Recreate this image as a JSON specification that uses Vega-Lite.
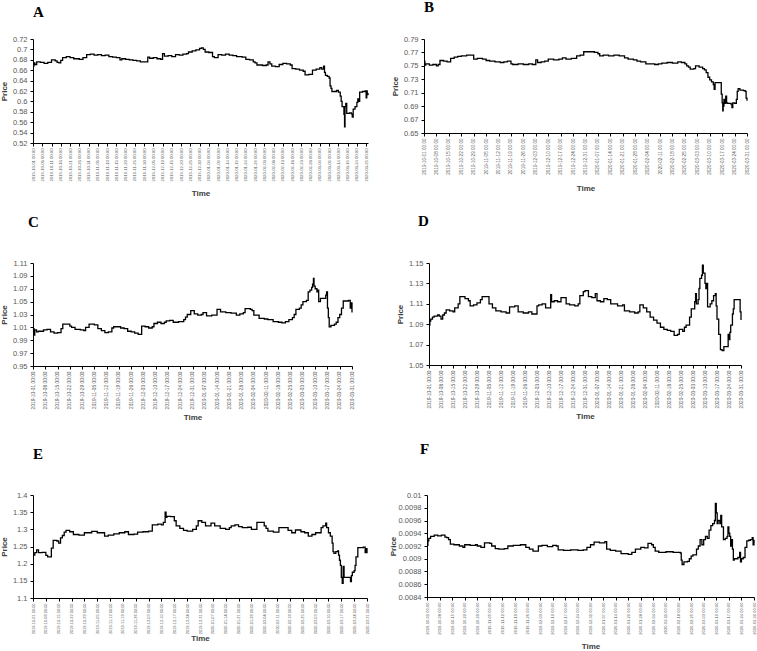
{
  "$schema": "https://vega.github.io/schema/vega-lite/v6.json",
  "background": "white",
  "padding": {"left": 0, "top": 0, "right": 0, "bottom": 0},
  "spacing": 16,
  "datasets": {
    "A": [
      {"t":"2019-10-01","p":0.668},{"t":"2019-10-01T12:00Z","p":0.674},{"t":"2019-10-02","p":0.671},{"t":"2019-10-03","p":0.676},{"t":"2019-10-05","p":0.675},{"t":"2019-10-07","p":0.673},{"t":"2019-10-09","p":0.675},{"t":"2019-10-11","p":0.68},{"t":"2019-10-13","p":0.678},{"t":"2019-10-14","p":0.675},{"t":"2019-10-15","p":0.674},{"t":"2019-10-16","p":0.679},{"t":"2019-10-17","p":0.684},{"t":"2019-10-19","p":0.686},{"t":"2019-10-21","p":0.684},{"t":"2019-10-23","p":0.682},{"t":"2019-10-26","p":0.681},{"t":"2019-10-28","p":0.684},{"t":"2019-10-30","p":0.69},
      {"t":"2019-11-01","p":0.691},{"t":"2019-11-03","p":0.689},{"t":"2019-11-05","p":0.69},{"t":"2019-11-07","p":0.688},{"t":"2019-11-09","p":0.689},{"t":"2019-11-11","p":0.686},{"t":"2019-11-13","p":0.685},{"t":"2019-11-15","p":0.684},{"t":"2019-11-17","p":0.68},{"t":"2019-11-18","p":0.682},{"t":"2019-11-20","p":0.681},{"t":"2019-11-22","p":0.68},{"t":"2019-11-24","p":0.679},{"t":"2019-11-26","p":0.678},{"t":"2019-11-28","p":0.676},{"t":"2019-11-30","p":0.676},
      {"t":"2019-12-02","p":0.685},{"t":"2019-12-03","p":0.683},{"t":"2019-12-05","p":0.684},{"t":"2019-12-07","p":0.682},{"t":"2019-12-09","p":0.681},{"t":"2019-12-10","p":0.692},{"t":"2019-12-11","p":0.687},{"t":"2019-12-13","p":0.688},{"t":"2019-12-15","p":0.686},{"t":"2019-12-17","p":0.69},{"t":"2019-12-19","p":0.689},{"t":"2019-12-21","p":0.691},{"t":"2019-12-23","p":0.692},{"t":"2019-12-24","p":0.695},{"t":"2019-12-26","p":0.697},{"t":"2019-12-28","p":0.699},{"t":"2019-12-30","p":0.702},{"t":"2019-12-31","p":0.703},
      {"t":"2020-01-01","p":0.7},{"t":"2020-01-02","p":0.695},{"t":"2020-01-04","p":0.694},{"t":"2020-01-06","p":0.686},{"t":"2020-01-07","p":0.684},{"t":"2020-01-09","p":0.69},{"t":"2020-01-11","p":0.689},{"t":"2020-01-13","p":0.691},{"t":"2020-01-15","p":0.689},{"t":"2020-01-17","p":0.688},{"t":"2020-01-19","p":0.686},{"t":"2020-01-22","p":0.685},{"t":"2020-01-24","p":0.681},{"t":"2020-01-26","p":0.68},{"t":"2020-01-28","p":0.676},{"t":"2020-01-29","p":0.674},{"t":"2020-01-30","p":0.67},
      {"t":"2020-02-02","p":0.669},{"t":"2020-02-04","p":0.67},{"t":"2020-02-05","p":0.676},{"t":"2020-02-06","p":0.672},{"t":"2020-02-07","p":0.668},{"t":"2020-02-09","p":0.667},{"t":"2020-02-11","p":0.671},{"t":"2020-02-13","p":0.673},{"t":"2020-02-15","p":0.672},{"t":"2020-02-17","p":0.67},{"t":"2020-02-18","p":0.663},{"t":"2020-02-20","p":0.662},{"t":"2020-02-22","p":0.66},{"t":"2020-02-24","p":0.658},{"t":"2020-02-25","p":0.651},{"t":"2020-02-27","p":0.652},{"t":"2020-02-29","p":0.66},
      {"t":"2020-03-02","p":0.662},{"t":"2020-03-04","p":0.665},{"t":"2020-03-05","p":0.662},{"t":"2020-03-06","p":0.668},{"t":"2020-03-06T12:00Z","p":0.656},{"t":"2020-03-07","p":0.65},{"t":"2020-03-08","p":0.648},{"t":"2020-03-09","p":0.645},{"t":"2020-03-09T12:00Z","p":0.63},{"t":"2020-03-10","p":0.625},{"t":"2020-03-10T12:00Z","p":0.619},{"t":"2020-03-13","p":0.621},{"t":"2020-03-14","p":0.618},{"t":"2020-03-15","p":0.61},{"t":"2020-03-15T12:00Z","p":0.6},{"t":"2020-03-16","p":0.59},{"t":"2020-03-17","p":0.575},{"t":"2020-03-17T08:00Z","p":0.551},{"t":"2020-03-17T14:00Z","p":0.59},{"t":"2020-03-18","p":0.596},{"t":"2020-03-18T12:00Z","p":0.577},{"t":"2020-03-20","p":0.578},{"t":"2020-03-21","p":0.576},{"t":"2020-03-21T12:00Z","p":0.57},{"t":"2020-03-22","p":0.585},{"t":"2020-03-23","p":0.59},{"t":"2020-03-24","p":0.598},{"t":"2020-03-24T12:00Z","p":0.605},{"t":"2020-03-25","p":0.6},{"t":"2020-03-25T12:00Z","p":0.618},{"t":"2020-03-27","p":0.619},{"t":"2020-03-28T12:00Z","p":0.62},{"t":"2020-03-29","p":0.607},{"t":"2020-03-29T08:00Z","p":0.62},{"t":"2020-03-29T14:00Z","p":0.613},{"t":"2020-03-30","p":0.616}
    ],
    "B": [
      {"t":"2019-10-01","p":0.757},{"t":"2019-10-01T12:00Z","p":0.751},{"t":"2019-10-02","p":0.753},{"t":"2019-10-04","p":0.751},{"t":"2019-10-06","p":0.752},{"t":"2019-10-08","p":0.75},{"t":"2019-10-09","p":0.752},{"t":"2019-10-10","p":0.758},{"t":"2019-10-12","p":0.757},{"t":"2019-10-14","p":0.756},{"t":"2019-10-16","p":0.761},{"t":"2019-10-18","p":0.763},{"t":"2019-10-20","p":0.764},{"t":"2019-10-22","p":0.765},{"t":"2019-10-25","p":0.766},{"t":"2019-10-29","p":0.76},{"t":"2019-10-31","p":0.761},
      {"t":"2019-11-03","p":0.76},{"t":"2019-11-05","p":0.758},{"t":"2019-11-07","p":0.757},{"t":"2019-11-10","p":0.756},{"t":"2019-11-13","p":0.755},{"t":"2019-11-15","p":0.756},{"t":"2019-11-17","p":0.757},{"t":"2019-11-19","p":0.753},{"t":"2019-11-20","p":0.752},{"t":"2019-11-23","p":0.753},{"t":"2019-11-26","p":0.752},{"t":"2019-11-29","p":0.753},
      {"t":"2019-12-01","p":0.752},{"t":"2019-12-03","p":0.759},{"t":"2019-12-04","p":0.755},{"t":"2019-12-06","p":0.756},{"t":"2019-12-08","p":0.757},{"t":"2019-12-10","p":0.76},{"t":"2019-12-13","p":0.759},{"t":"2019-12-16","p":0.76},{"t":"2019-12-18","p":0.762},{"t":"2019-12-20","p":0.76},{"t":"2019-12-23","p":0.761},{"t":"2019-12-26","p":0.765},{"t":"2019-12-28","p":0.766},{"t":"2019-12-30","p":0.771},
      {"t":"2020-01-02","p":0.771},{"t":"2020-01-05","p":0.77},{"t":"2020-01-07","p":0.768},{"t":"2020-01-08","p":0.765},{"t":"2020-01-10","p":0.766},{"t":"2020-01-13","p":0.765},{"t":"2020-01-16","p":0.766},{"t":"2020-01-19","p":0.765},{"t":"2020-01-22","p":0.762},{"t":"2020-01-24","p":0.76},{"t":"2020-01-27","p":0.759},{"t":"2020-01-29","p":0.757},{"t":"2020-01-31","p":0.756},
      {"t":"2020-02-03","p":0.753},{"t":"2020-02-06","p":0.753},{"t":"2020-02-08","p":0.752},{"t":"2020-02-10","p":0.753},{"t":"2020-02-12","p":0.754},{"t":"2020-02-15","p":0.755},{"t":"2020-02-18","p":0.754},{"t":"2020-02-21","p":0.756},{"t":"2020-02-23","p":0.755},{"t":"2020-02-25","p":0.753},{"t":"2020-02-26","p":0.75},{"t":"2020-02-27","p":0.748},{"t":"2020-02-28","p":0.745},
      {"t":"2020-03-01","p":0.746},{"t":"2020-03-02","p":0.75},{"t":"2020-03-04","p":0.748},{"t":"2020-03-06","p":0.746},{"t":"2020-03-07","p":0.744},{"t":"2020-03-08","p":0.74},{"t":"2020-03-09","p":0.733},{"t":"2020-03-10","p":0.729},{"t":"2020-03-11","p":0.726},{"t":"2020-03-12","p":0.722},{"t":"2020-03-12T12:00Z","p":0.715},{"t":"2020-03-13","p":0.725},{"t":"2020-03-16","p":0.725},{"t":"2020-03-16T12:00Z","p":0.708},{"t":"2020-03-17","p":0.695},{"t":"2020-03-17T08:00Z","p":0.683},{"t":"2020-03-17T14:00Z","p":0.69},{"t":"2020-03-18","p":0.7},{"t":"2020-03-18T12:00Z","p":0.694},{"t":"2020-03-19","p":0.705},{"t":"2020-03-19T12:00Z","p":0.695},{"t":"2020-03-20","p":0.694},{"t":"2020-03-22","p":0.693},{"t":"2020-03-22T12:00Z","p":0.688},{"t":"2020-03-23","p":0.695},{"t":"2020-03-24","p":0.694},{"t":"2020-03-25","p":0.7},{"t":"2020-03-25T12:00Z","p":0.712},{"t":"2020-03-26","p":0.716},{"t":"2020-03-27","p":0.714},{"t":"2020-03-29","p":0.713},{"t":"2020-03-30","p":0.712},{"t":"2020-03-30T12:00Z","p":0.702},{"t":"2020-03-31","p":0.698}
    ],
    "C": [
      {"t":"2019-10-01","p":1.003},{"t":"2019-10-01T08:00Z","p":1.008},{"t":"2019-10-01T14:00Z","p":0.998},{"t":"2019-10-02","p":1.006},{"t":"2019-10-03","p":1.003},{"t":"2019-10-04","p":1.004},{"t":"2019-10-07","p":1.006},{"t":"2019-10-09","p":1.007},{"t":"2019-10-11","p":1.003},{"t":"2019-10-13","p":1.001},{"t":"2019-10-15","p":1.002},{"t":"2019-10-17","p":1.008},{"t":"2019-10-18","p":1.015},{"t":"2019-10-22","p":1.012},{"t":"2019-10-23","p":1.01},{"t":"2019-10-25","p":1.007},{"t":"2019-10-28","p":1.006},{"t":"2019-10-30","p":1.005},{"t":"2019-10-31","p":1.01},
      {"t":"2019-11-02","p":1.015},{"t":"2019-11-05","p":1.014},{"t":"2019-11-07","p":1.008},{"t":"2019-11-09","p":1.005},{"t":"2019-11-11","p":1.002},{"t":"2019-11-13","p":1.003},{"t":"2019-11-15","p":1.009},{"t":"2019-11-16","p":1.011},{"t":"2019-11-19","p":1.011},{"t":"2019-11-20","p":1.009},{"t":"2019-11-22","p":1.008},{"t":"2019-11-24","p":1.004},{"t":"2019-11-26","p":1.003},{"t":"2019-11-28","p":1.001},{"t":"2019-11-30","p":0.999},
      {"t":"2019-12-02","p":1.012},{"t":"2019-12-04","p":1.011},{"t":"2019-12-06","p":1.009},{"t":"2019-12-08","p":1.011},{"t":"2019-12-09","p":1.016},{"t":"2019-12-11","p":1.018},{"t":"2019-12-13","p":1.016},{"t":"2019-12-15","p":1.018},{"t":"2019-12-16","p":1.02},{"t":"2019-12-18","p":1.021},{"t":"2019-12-20","p":1.018},{"t":"2019-12-23","p":1.019},{"t":"2019-12-26","p":1.022},{"t":"2019-12-27","p":1.026},{"t":"2019-12-28","p":1.03},{"t":"2019-12-30","p":1.036},
      {"t":"2020-01-01","p":1.031},{"t":"2020-01-03","p":1.029},{"t":"2020-01-05","p":1.03},{"t":"2020-01-06","p":1.033},{"t":"2020-01-08","p":1.028},{"t":"2020-01-11","p":1.029},{"t":"2020-01-14","p":1.038},{"t":"2020-01-16","p":1.034},{"t":"2020-01-19","p":1.033},{"t":"2020-01-22","p":1.032},{"t":"2020-01-25","p":1.029},{"t":"2020-01-27","p":1.031},{"t":"2020-01-29","p":1.033},{"t":"2020-01-30","p":1.039},
      {"t":"2020-02-02","p":1.038},{"t":"2020-02-03","p":1.036},{"t":"2020-02-04","p":1.029},{"t":"2020-02-07","p":1.024},{"t":"2020-02-10","p":1.023},{"t":"2020-02-12","p":1.022},{"t":"2020-02-15","p":1.019},{"t":"2020-02-18","p":1.018},{"t":"2020-02-20","p":1.017},{"t":"2020-02-22","p":1.019},{"t":"2020-02-24","p":1.022},{"t":"2020-02-26","p":1.025},{"t":"2020-02-27","p":1.03},{"t":"2020-02-28","p":1.038},
      {"t":"2020-03-01","p":1.04},{"t":"2020-03-02","p":1.045},{"t":"2020-03-03","p":1.05},{"t":"2020-03-05","p":1.052},{"t":"2020-03-06","p":1.065},{"t":"2020-03-07","p":1.068},{"t":"2020-03-08","p":1.072},{"t":"2020-03-08T12:00Z","p":1.077},{"t":"2020-03-09","p":1.086},{"t":"2020-03-09T08:00Z","p":1.074},{"t":"2020-03-10","p":1.07},{"t":"2020-03-11","p":1.065},{"t":"2020-03-11T12:00Z","p":1.068},{"t":"2020-03-12","p":1.05},{"t":"2020-03-13","p":1.055},{"t":"2020-03-15","p":1.055},{"t":"2020-03-16","p":1.06},{"t":"2020-03-16T12:00Z","p":1.065},{"t":"2020-03-17","p":1.04},{"t":"2020-03-17T12:00Z","p":1.025},{"t":"2020-03-18","p":1.011},{"t":"2020-03-19","p":1.013},{"t":"2020-03-21","p":1.015},{"t":"2020-03-22","p":1.018},{"t":"2020-03-23","p":1.025},{"t":"2020-03-24","p":1.03},{"t":"2020-03-25","p":1.04},{"t":"2020-03-26","p":1.051},{"t":"2020-03-29","p":1.052},{"t":"2020-03-30","p":1.04},{"t":"2020-03-30T12:00Z","p":1.048},{"t":"2020-03-31","p":1.033}
    ],
    "D": [
      {"t":"2019-10-01","p":1.089},{"t":"2019-10-01T12:00Z","p":1.093},{"t":"2019-10-02","p":1.095},{"t":"2019-10-03","p":1.097},{"t":"2019-10-04","p":1.098},{"t":"2019-10-06","p":1.099},{"t":"2019-10-07","p":1.098},{"t":"2019-10-08","p":1.095},{"t":"2019-10-09","p":1.099},{"t":"2019-10-10","p":1.101},{"t":"2019-10-11","p":1.104},{"t":"2019-10-13","p":1.103},{"t":"2019-10-15","p":1.102},{"t":"2019-10-16","p":1.106},{"t":"2019-10-18","p":1.11},{"t":"2019-10-19","p":1.117},{"t":"2019-10-22","p":1.115},{"t":"2019-10-24","p":1.113},{"t":"2019-10-25","p":1.108},{"t":"2019-10-27","p":1.109},{"t":"2019-10-29","p":1.111},{"t":"2019-10-31","p":1.114},
      {"t":"2019-11-01","p":1.117},{"t":"2019-11-04","p":1.117},{"t":"2019-11-05","p":1.11},{"t":"2019-11-07","p":1.106},{"t":"2019-11-09","p":1.103},{"t":"2019-11-12","p":1.102},{"t":"2019-11-15","p":1.101},{"t":"2019-11-17","p":1.107},{"t":"2019-11-20","p":1.108},{"t":"2019-11-22","p":1.102},{"t":"2019-11-25","p":1.101},{"t":"2019-11-28","p":1.102},{"t":"2019-11-30","p":1.1},
      {"t":"2019-12-03","p":1.108},{"t":"2019-12-04","p":1.109},{"t":"2019-12-06","p":1.11},{"t":"2019-12-08","p":1.106},{"t":"2019-12-11","p":1.119},{"t":"2019-12-11T12:00Z","p":1.112},{"t":"2019-12-13","p":1.113},{"t":"2019-12-15","p":1.112},{"t":"2019-12-17","p":1.116},{"t":"2019-12-20","p":1.11},{"t":"2019-12-22","p":1.109},{"t":"2019-12-25","p":1.108},{"t":"2019-12-27","p":1.11},{"t":"2019-12-28","p":1.118},{"t":"2019-12-30","p":1.122},{"t":"2019-12-31","p":1.123},
      {"t":"2020-01-02","p":1.117},{"t":"2020-01-04","p":1.116},{"t":"2020-01-06","p":1.12},{"t":"2020-01-07","p":1.113},{"t":"2020-01-09","p":1.112},{"t":"2020-01-11","p":1.115},{"t":"2020-01-13","p":1.114},{"t":"2020-01-15","p":1.11},{"t":"2020-01-17","p":1.11},{"t":"2020-01-19","p":1.108},{"t":"2020-01-22","p":1.109},{"t":"2020-01-23","p":1.103},{"t":"2020-01-26","p":1.102},{"t":"2020-01-29","p":1.101},{"t":"2020-01-31","p":1.102},
      {"t":"2020-02-01","p":1.109},{"t":"2020-02-03","p":1.106},{"t":"2020-02-05","p":1.102},{"t":"2020-02-07","p":1.097},{"t":"2020-02-09","p":1.094},{"t":"2020-02-11","p":1.091},{"t":"2020-02-13","p":1.087},{"t":"2020-02-15","p":1.085},{"t":"2020-02-17","p":1.084},{"t":"2020-02-19","p":1.083},{"t":"2020-02-21","p":1.079},{"t":"2020-02-23","p":1.08},{"t":"2020-02-24","p":1.085},{"t":"2020-02-26","p":1.083},{"t":"2020-02-27","p":1.087},{"t":"2020-02-28","p":1.089},
      {"t":"2020-03-01","p":1.097},{"t":"2020-03-02","p":1.105},{"t":"2020-03-04","p":1.112},{"t":"2020-03-04T12:00Z","p":1.12},{"t":"2020-03-05","p":1.11},{"t":"2020-03-06","p":1.114},{"t":"2020-03-06T12:00Z","p":1.125},{"t":"2020-03-07","p":1.135},{"t":"2020-03-08","p":1.138},{"t":"2020-03-08T12:00Z","p":1.148},{"t":"2020-03-09","p":1.14},{"t":"2020-03-10","p":1.13},{"t":"2020-03-10T12:00Z","p":1.125},{"t":"2020-03-11","p":1.13},{"t":"2020-03-11T12:00Z","p":1.107},{"t":"2020-03-13","p":1.11},{"t":"2020-03-14","p":1.113},{"t":"2020-03-15","p":1.118},{"t":"2020-03-16","p":1.12},{"t":"2020-03-16T12:00Z","p":1.108},{"t":"2020-03-17","p":1.095},{"t":"2020-03-18","p":1.08},{"t":"2020-03-19","p":1.065},{"t":"2020-03-20","p":1.064},{"t":"2020-03-21","p":1.068},{"t":"2020-03-23","p":1.068},{"t":"2020-03-23T12:00Z","p":1.08},{"t":"2020-03-24","p":1.075},{"t":"2020-03-24T12:00Z","p":1.082},{"t":"2020-03-25","p":1.089},{"t":"2020-03-26","p":1.1},{"t":"2020-03-26T12:00Z","p":1.105},{"t":"2020-03-27","p":1.114},{"t":"2020-03-30","p":1.114},{"t":"2020-03-30T12:00Z","p":1.102},{"t":"2020-03-31","p":1.094}
    ],
    "E": [
      {"t":"2019-10-01","p":1.225},{"t":"2019-10-02","p":1.232},{"t":"2019-10-03","p":1.24},{"t":"2019-10-04","p":1.232},{"t":"2019-10-06","p":1.233},{"t":"2019-10-08","p":1.224},{"t":"2019-10-09","p":1.22},{"t":"2019-10-11","p":1.245},{"t":"2019-10-12","p":1.268},{"t":"2019-10-14","p":1.266},{"t":"2019-10-15","p":1.26},{"t":"2019-10-16","p":1.275},{"t":"2019-10-17","p":1.282},{"t":"2019-10-18","p":1.292},{"t":"2019-10-19","p":1.297},{"t":"2019-10-21","p":1.293},{"t":"2019-10-23","p":1.285},{"t":"2019-10-26","p":1.283},{"t":"2019-10-29","p":1.29},
      {"t":"2019-11-02","p":1.294},{"t":"2019-11-05","p":1.29},{"t":"2019-11-09","p":1.28},{"t":"2019-11-11","p":1.283},{"t":"2019-11-14","p":1.287},{"t":"2019-11-17","p":1.29},{"t":"2019-11-20","p":1.293},{"t":"2019-11-22","p":1.285},{"t":"2019-11-25","p":1.286},{"t":"2019-11-27","p":1.292},{"t":"2019-11-30","p":1.293},
      {"t":"2019-12-03","p":1.295},{"t":"2019-12-05","p":1.313},{"t":"2019-12-08","p":1.315},{"t":"2019-12-10","p":1.313},{"t":"2019-12-11","p":1.32},{"t":"2019-12-12","p":1.35},{"t":"2019-12-12T12:00Z","p":1.335},{"t":"2019-12-13","p":1.338},{"t":"2019-12-15","p":1.337},{"t":"2019-12-17","p":1.325},{"t":"2019-12-18","p":1.31},{"t":"2019-12-20","p":1.303},{"t":"2019-12-22","p":1.297},{"t":"2019-12-24","p":1.295},{"t":"2019-12-27","p":1.3},{"t":"2019-12-29","p":1.31},{"t":"2019-12-30","p":1.325},
      {"t":"2020-01-01","p":1.32},{"t":"2020-01-03","p":1.31},{"t":"2020-01-06","p":1.318},{"t":"2020-01-08","p":1.31},{"t":"2020-01-11","p":1.303},{"t":"2020-01-14","p":1.3},{"t":"2020-01-16","p":1.305},{"t":"2020-01-17","p":1.31},{"t":"2020-01-19","p":1.313},{"t":"2020-01-21","p":1.308},{"t":"2020-01-23","p":1.305},{"t":"2020-01-26","p":1.306},{"t":"2020-01-28","p":1.3},{"t":"2020-01-31","p":1.32},
      {"t":"2020-02-03","p":1.32},{"t":"2020-02-04","p":1.31},{"t":"2020-02-05","p":1.303},{"t":"2020-02-06","p":1.295},{"t":"2020-02-09","p":1.292},{"t":"2020-02-12","p":1.305},{"t":"2020-02-15","p":1.305},{"t":"2020-02-17","p":1.297},{"t":"2020-02-19","p":1.29},{"t":"2020-02-21","p":1.298},{"t":"2020-02-24","p":1.293},{"t":"2020-02-26","p":1.29},{"t":"2020-02-28","p":1.28},
      {"t":"2020-03-01","p":1.285},{"t":"2020-03-03","p":1.29},{"t":"2020-03-06","p":1.305},{"t":"2020-03-07","p":1.31},{"t":"2020-03-08T12:00Z","p":1.318},{"t":"2020-03-09","p":1.305},{"t":"2020-03-10","p":1.29},{"t":"2020-03-11","p":1.28},{"t":"2020-03-12","p":1.26},{"t":"2020-03-12T12:00Z","p":1.235},{"t":"2020-03-13","p":1.23},{"t":"2020-03-14","p":1.235},{"t":"2020-03-15","p":1.237},{"t":"2020-03-15T12:00Z","p":1.225},{"t":"2020-03-16","p":1.21},{"t":"2020-03-16T12:00Z","p":1.195},{"t":"2020-03-17","p":1.16},{"t":"2020-03-17T12:00Z","p":1.143},{"t":"2020-03-18","p":1.192},{"t":"2020-03-18T12:00Z","p":1.16},{"t":"2020-03-21","p":1.16},{"t":"2020-03-22","p":1.148},{"t":"2020-03-22T12:00Z","p":1.165},{"t":"2020-03-23","p":1.175},{"t":"2020-03-24","p":1.18},{"t":"2020-03-24T12:00Z","p":1.195},{"t":"2020-03-25","p":1.22},{"t":"2020-03-26","p":1.247},{"t":"2020-03-29","p":1.248},{"t":"2020-03-30","p":1.232},{"t":"2020-03-30T12:00Z","p":1.244},{"t":"2020-03-31","p":1.23}
    ],
    "F": [
      {"t":"2019-10-01","p":0.00921},{"t":"2019-10-01T12:00Z","p":0.00928},{"t":"2019-10-02","p":0.00932},{"t":"2019-10-03","p":0.00935},{"t":"2019-10-05","p":0.00937},{"t":"2019-10-07","p":0.00936},{"t":"2019-10-09","p":0.00937},{"t":"2019-10-11","p":0.00934},{"t":"2019-10-12","p":0.00933},{"t":"2019-10-13","p":0.0093},{"t":"2019-10-14","p":0.00923},{"t":"2019-10-16","p":0.00922},{"t":"2019-10-19","p":0.0092},{"t":"2019-10-21","p":0.00918},{"t":"2019-10-22","p":0.00922},{"t":"2019-10-25","p":0.00921},{"t":"2019-10-28","p":0.00922},{"t":"2019-10-29","p":0.0092},{"t":"2019-10-31","p":0.00918},
      {"t":"2019-11-02","p":0.00925},{"t":"2019-11-05","p":0.00924},{"t":"2019-11-06","p":0.0092},{"t":"2019-11-08","p":0.00916},{"t":"2019-11-10","p":0.00915},{"t":"2019-11-13","p":0.00916},{"t":"2019-11-15","p":0.0092},{"t":"2019-11-18","p":0.00921},{"t":"2019-11-22","p":0.00922},{"t":"2019-11-25","p":0.00918},{"t":"2019-11-27","p":0.00915},{"t":"2019-11-29","p":0.00912},
      {"t":"2019-12-02","p":0.0092},{"t":"2019-12-04","p":0.00921},{"t":"2019-12-07","p":0.00919},{"t":"2019-12-10","p":0.00921},{"t":"2019-12-12","p":0.0092},{"t":"2019-12-13","p":0.00914},{"t":"2019-12-16","p":0.00913},{"t":"2019-12-20","p":0.00914},{"t":"2019-12-24","p":0.00913},{"t":"2019-12-27","p":0.00914},{"t":"2019-12-29","p":0.00918},{"t":"2019-12-31","p":0.00922},
      {"t":"2020-01-02","p":0.00926},{"t":"2020-01-05","p":0.00925},{"t":"2020-01-08","p":0.00927},{"t":"2020-01-09","p":0.00915},{"t":"2020-01-11","p":0.00913},{"t":"2020-01-14","p":0.00912},{"t":"2020-01-17","p":0.00908},{"t":"2020-01-21","p":0.00907},{"t":"2020-01-23","p":0.0091},{"t":"2020-01-25","p":0.00915},{"t":"2020-01-28","p":0.00918},{"t":"2020-01-30","p":0.00917},
      {"t":"2020-02-01","p":0.00924},{"t":"2020-02-03","p":0.00922},{"t":"2020-02-04","p":0.00918},{"t":"2020-02-05","p":0.00912},{"t":"2020-02-07","p":0.0091},{"t":"2020-02-11","p":0.00911},{"t":"2020-02-15","p":0.0091},{"t":"2020-02-19","p":0.00909},{"t":"2020-02-19T12:00Z","p":0.00898},{"t":"2020-02-20","p":0.00891},{"t":"2020-02-21","p":0.00895},{"t":"2020-02-23","p":0.00896},{"t":"2020-02-24","p":0.009},{"t":"2020-02-25","p":0.00904},{"t":"2020-02-26","p":0.00906},{"t":"2020-02-28","p":0.00915},{"t":"2020-02-29","p":0.0092},
      {"t":"2020-03-01","p":0.0093},{"t":"2020-03-02","p":0.00922},{"t":"2020-03-03","p":0.0093},{"t":"2020-03-04","p":0.00935},{"t":"2020-03-05","p":0.00932},{"t":"2020-03-06","p":0.00945},{"t":"2020-03-07","p":0.00952},{"t":"2020-03-08","p":0.00955},{"t":"2020-03-09","p":0.0096},{"t":"2020-03-09T12:00Z","p":0.00987},{"t":"2020-03-10","p":0.00972},{"t":"2020-03-10T12:00Z","p":0.00955},{"t":"2020-03-11","p":0.0096},{"t":"2020-03-12","p":0.00955},{"t":"2020-03-12T12:00Z","p":0.00968},{"t":"2020-03-13","p":0.0095},{"t":"2020-03-14","p":0.0093},{"t":"2020-03-15","p":0.00932},{"t":"2020-03-16","p":0.00935},{"t":"2020-03-16T12:00Z","p":0.0095},{"t":"2020-03-17","p":0.0094},{"t":"2020-03-17T12:00Z","p":0.00935},{"t":"2020-03-18","p":0.0092},{"t":"2020-03-18T12:00Z","p":0.0093},{"t":"2020-03-19","p":0.00915},{"t":"2020-03-19T12:00Z","p":0.00898},{"t":"2020-03-20","p":0.009},{"t":"2020-03-22","p":0.00902},{"t":"2020-03-23","p":0.0091},{"t":"2020-03-23T12:00Z","p":0.00895},{"t":"2020-03-24","p":0.009},{"t":"2020-03-25","p":0.00902},{"t":"2020-03-26","p":0.00918},{"t":"2020-03-27","p":0.00928},{"t":"2020-03-28","p":0.00929},{"t":"2020-03-29","p":0.0093},{"t":"2020-03-30","p":0.00933},{"t":"2020-03-30T12:00Z","p":0.00922},{"t":"2020-03-31","p":0.0093}
    ]
  },
  "vconcat": [
    {
      "spacing": 20,
      "hconcat": [
        {
          "title": {"text": "A", "offset": 15},
          "width": 335, "height": 104,
          "data": {"name": "A"},
          "mark": {"type": "line", "interpolate": "step-after", "color": "#000000", "strokeWidth": 1.3},
          "encoding": {
            "x": {"field": "t", "type": "temporal", "title": "Time",
              "scale": {"type": "utc", "domain": [1569888000000, 1585526400000], "nice": false},
              "axis": {"labelExpr": "utcFormat(datum.value, '%Y-%m-%d %H:%M')", "labelFontSize": 4.2, "titlePadding": 8,
                "values": [1569888000000,1570320000000,1570752000000,1571184000000,1571616000000,1572048000000,1572480000000,1572912000000,1573344000000,1573776000000,1574208000000,1574640000000,1575072000000,1575504000000,1575936000000,1576368000000,1576800000000,1577232000000,1577664000000,1578096000000,1578528000000,1578960000000,1579392000000,1579824000000,1580256000000,1580688000000,1581120000000,1581552000000,1581984000000,1582416000000,1582848000000,1583280000000,1583712000000,1584144000000,1584576000000,1585008000000,1585440000000]}},
            "y": {"field": "p", "type": "quantitative", "title": "Price",
              "scale": {"domain": [0.52, 0.72], "nice": false, "zero": false},
              "axis": {"format": "~g", "values": [0.52,0.54,0.56,0.58,0.6,0.62,0.64,0.66,0.68,0.7,0.72]}}
          }
        },
        {
          "title": {"text": "B", "offset": 20},
          "width": 323, "height": 94,
          "data": {"name": "B"},
          "mark": {"type": "line", "interpolate": "step-after", "color": "#000000", "strokeWidth": 1.3},
          "encoding": {
            "x": {"field": "t", "type": "temporal", "title": "Time",
              "scale": {"type": "utc", "domain": [1569888000000, 1585612800000], "nice": false},
              "axis": {"labelExpr": "utcFormat(datum.value, '%Y-%m-%d %H:%M')", "labelFontSize": 4.6, "titlePadding": 10,
                "values": [1569888000000,1570492800000,1571097600000,1571702400000,1572307200000,1572912000000,1573516800000,1574121600000,1574726400000,1575331200000,1575936000000,1576540800000,1577145600000,1577750400000,1578355200000,1578960000000,1579564800000,1580169600000,1580774400000,1581379200000,1581984000000,1582588800000,1583193600000,1583798400000,1584403200000,1585008000000,1585612800000]}},
            "y": {"field": "p", "type": "quantitative", "title": "Price",
              "scale": {"domain": [0.65, 0.79], "nice": false, "zero": false},
              "axis": {"format": "~g", "values": [0.65,0.67,0.69,0.71,0.73,0.75,0.77,0.79]}}
          }
        }
      ]
    },
    {
      "spacing": 20,
      "vconcat": [
        {
          "spacing": 41,
          "hconcat": [
            {
              "title": {"text": "C", "offset": 29, "dx": -5},
              "width": 319, "height": 103,
              "data": {"name": "C"},
              "mark": {"type": "line", "interpolate": "step-after", "color": "#000000", "strokeWidth": 1.3},
              "encoding": {
                "x": {"field": "t", "type": "temporal", "title": "Time",
                  "scale": {"type": "utc", "domain": [1569888000000, 1585612800000], "nice": false},
                  "axis": {"labelExpr": "utcFormat(datum.value, '%Y-%m-%d %H:%M')", "labelFontSize": 4.8, "titlePadding": 5,
                    "values": [1569888000000,1570492800000,1571097600000,1571702400000,1572307200000,1572912000000,1573516800000,1574121600000,1574726400000,1575331200000,1575936000000,1576540800000,1577145600000,1577750400000,1578355200000,1578960000000,1579564800000,1580169600000,1580774400000,1581379200000,1581984000000,1582588800000,1583193600000,1583798400000,1584403200000,1585008000000,1585612800000]}},
                "y": {"field": "p", "type": "quantitative", "title": "Price",
                  "scale": {"domain": [0.95, 1.11], "nice": false, "zero": false},
                  "axis": {"format": "~g", "values": [0.95,0.97,0.99,1.01,1.03,1.05,1.07,1.09,1.11]}}
              }
            },
            {
              "title": {"text": "D", "offset": 30, "dx": -11},
              "width": 312, "height": 102,
              "data": {"name": "D"},
              "mark": {"type": "line", "interpolate": "step-after", "color": "#000000", "strokeWidth": 1.3},
              "encoding": {
                "x": {"field": "t", "type": "temporal", "title": "Time",
                  "scale": {"type": "utc", "domain": [1569888000000, 1585612800000], "nice": false},
                  "axis": {"labelExpr": "utcFormat(datum.value, '%Y-%m-%d %H:%M')", "labelFontSize": 4.8, "titlePadding": 5,
                    "values": [1569888000000,1570492800000,1571097600000,1571702400000,1572307200000,1572912000000,1573516800000,1574121600000,1574726400000,1575331200000,1575936000000,1576540800000,1577145600000,1577750400000,1578355200000,1578960000000,1579564800000,1580169600000,1580774400000,1581379200000,1581984000000,1582588800000,1583193600000,1583798400000,1584403200000,1585008000000,1585612800000]}},
                "y": {"field": "p", "type": "quantitative", "title": "Price",
                  "scale": {"domain": [1.05, 1.15], "nice": false, "zero": false},
                  "axis": {"format": "~g", "values": [1.05,1.07,1.09,1.11,1.13,1.15]}}
              }
            }
          ]
        },
        {
          "spacing": 19,
          "hconcat": [
            {
              "title": {"text": "E", "offset": 29},
              "width": 334, "height": 103,
              "data": {"name": "E"},
              "mark": {"type": "line", "interpolate": "step-after", "color": "#000000", "strokeWidth": 1.3},
              "encoding": {
                "x": {"field": "t", "type": "temporal", "title": "Time",
                  "scale": {"type": "utc", "domain": [1569888000000, 1585612800000], "nice": false},
                  "axis": {"labelExpr": "utcFormat(datum.value, '%Y-%m-%d %H:%M')", "labelFontSize": 3.9, "titlePadding": 1,
                    "values": [1569888000000,1570492800000,1571097600000,1571702400000,1572307200000,1572912000000,1573516800000,1574121600000,1574726400000,1575331200000,1575936000000,1576540800000,1577145600000,1577750400000,1578355200000,1578960000000,1579564800000,1580169600000,1580774400000,1581379200000,1581984000000,1582588800000,1583193600000,1583798400000,1584403200000,1585008000000,1585612800000]}},
                "y": {"field": "p", "type": "quantitative", "title": "Price",
                  "scale": {"domain": [1.1, 1.4], "nice": false, "zero": false},
                  "axis": {"format": "~g", "values": [1.1,1.15,1.2,1.25,1.3,1.35,1.4]}}
              }
            },
            {
              "title": {"text": "F", "offset": 34, "dx": -7},
              "width": 327, "height": 102,
              "data": {"name": "F"},
              "mark": {"type": "line", "interpolate": "step-after", "color": "#000000", "strokeWidth": 1.3},
              "encoding": {
                "x": {"field": "t", "type": "temporal", "title": "Time",
                  "scale": {"type": "utc", "domain": [1569888000000, 1585612800000], "nice": false},
                  "axis": {"labelExpr": "utcFormat(datum.value, '%Y-%m-%d %H:%M')", "labelFontSize": 4.1, "titlePadding": 8,
                    "values": [1569888000000,1570492800000,1571097600000,1571702400000,1572307200000,1572912000000,1573516800000,1574121600000,1574726400000,1575331200000,1575936000000,1576540800000,1577145600000,1577750400000,1578355200000,1578960000000,1579564800000,1580169600000,1580774400000,1581379200000,1581984000000,1582588800000,1583193600000,1583798400000,1584403200000,1585008000000,1585612800000]}},
                "y": {"field": "p", "type": "quantitative", "title": "Price",
                  "scale": {"domain": [0.0084, 0.01], "nice": false, "zero": false},
                  "axis": {"format": "~g", "titlePadding": 1, "values": [0.0084,0.0086,0.0088,0.009,0.0092,0.0094,0.0096,0.0098,0.01]}}
              }
            }
          ]
        }
      ]
    }
  ],
  "config": {
    "view": {"stroke": null},
    "font": "Liberation Sans",
    "axis": {
      "grid": false,
      "labelFont": "Liberation Sans",
      "labelColor": "#595959",
      "titleFont": "Liberation Sans",
      "titleFontWeight": "bold",
      "titleFontSize": 8,
      "titleColor": "#404040",
      "domainColor": "#000000",
      "tickColor": "#000000",
      "tickSize": 3,
      "domainWidth": 1
    },
    "axisY": {"labelFontSize": 7.5, "labelPadding": 3, "titlePadding": 4},
    "axisX": {"labelAngle": 270, "labelOverlap": false, "labelPadding": 2, "labelFlush": false},
    "title": {"font": "Liberation Serif", "fontSize": 15, "fontWeight": "bold", "anchor": "start", "frame": "group", "color": "#000000"}
  }
}
